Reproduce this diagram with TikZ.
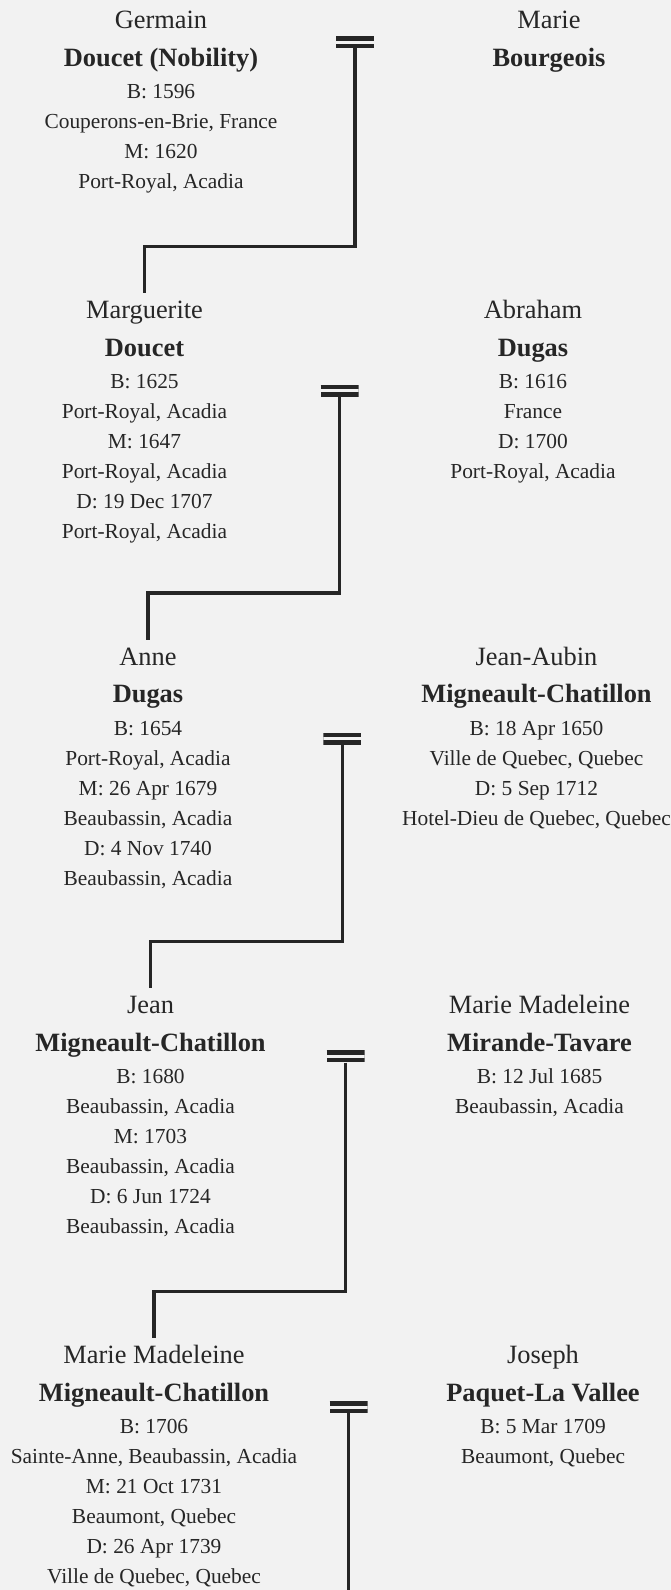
\documentclass[tikz,border=0pt]{standalone}
\usepackage{fontspec}
\setmainfont{Liberation Serif}
\usepackage{tikz}
\usetikzlibrary{positioning, calc}

\definecolor{ink}{HTML}{262626}
\definecolor{paper}{HTML}{F2F2F2}

\newcommand{\detailfont}{\fontsize{21.4}{30}\selectfont}
\newcommand{\namefont}{\fontsize{26.4}{30}\selectfont}
\newcommand{\pname}[2]{{\namefont\vphantom{l}#1}\\[7.4pt]{\namefont\bfseries #2}}

\begin{document}
\begin{tikzpicture}[x=1pt, y=-1pt,
    person/.style={align=center, anchor=north, inner sep=0pt, outer ysep=7pt, text=ink, font=\detailfont},
    union/.style={minimum width=38pt, minimum height=12pt, inner sep=0pt,
        path picture={\draw[ink, line width=4.5pt, double=paper, double distance=3pt] (path picture bounding box.west) -- (path picture bounding box.east);}},
    link/.style={draw=ink, line width=3.4pt}]

    \fill[paper] (0,0) rectangle (671,1590);
    \useasboundingbox (0,0) rectangle (671,1590);

    % Nodes
    \node [person] (germain) at (161,3.5) {\pname{Germain}{Doucet (Nobility)}\\[2.6pt]B: 1596\\Couperons-en-Brie, France\\M: 1620\\Port-Royal, Acadia};
    \node [person] (mbourgeois) at (549,3.5) {\pname{Marie}{Bourgeois}};

    \node [person] (marguerite) at (144.5,293.3) {\pname{Marguerite}{Doucet}\\[2.6pt]B: 1625\\Port-Royal, Acadia\\M: 1647\\Port-Royal, Acadia\\D: 19 Dec 1707\\Port-Royal, Acadia};
    \node [person] (abraham) at (533,293.3) {\pname{Abraham}{Dugas}\\[2.6pt]B: 1616\\France\\D: 1700\\Port-Royal, Acadia};

    \node [person] (anne) at (148,640) {\pname{Anne}{Dugas}\\[2.6pt]B: 1654\\Port-Royal, Acadia\\M: 26 Apr 1679\\Beaubassin, Acadia\\D: 4 Nov 1740\\Beaubassin, Acadia};
    \node [person] (jeanaubin) at (536.5,640) {\pname{Jean-Aubin}{Migneault-Chatillon}\\[2.6pt]B: 18 Apr 1650\\Ville de Quebec, Quebec\\D: 5 Sep 1712\\Hotel-Dieu de Quebec, Quebec};

    \node [person] (jean) at (150.5,988.3) {\pname{Jean}{Migneault-Chatillon}\\[2.6pt]B: 1680\\Beaubassin, Acadia\\M: 1703\\Beaubassin, Acadia\\D: 6 Jun 1724\\Beaubassin, Acadia};
    \node [person] (mmirande) at (539.5,988.3) {\pname{Marie Madeleine}{Mirande-Tavare}\\[2.6pt]B: 12 Jul 1685\\Beaubassin, Acadia};

    \node [person] (mmigneault) at (154,1338.3) {\pname{Marie Madeleine}{Migneault-Chatillon}\\[2.6pt]B: 1706\\Sainte-Anne, Beaubassin, Acadia\\M: 21 Oct 1731\\Beaumont, Quebec\\D: 26 Apr 1739\\Ville de Quebec, Quebec};
    \node [person] (joseph) at (543,1338.3) {\pname{Joseph}{Paquet-La Vallee}\\[2.6pt]B: 5 Mar 1709\\Beaumont, Quebec};

    % Marriages
    \node [union] (wed1) at (355,42.2) {};
    \node [union] (wed2) at (339.5,390.5) {};
    \node [union] (wed3) at (342.3,738.9) {};
    \node [union] (wed4) at (345.5,1056.4) {};
    \node [union] (wed5) at (348.7,1407.2) {};
    \coordinate (bottom) at (348.7,1590);

    % Descent lines
    \draw [link] (wed1.south) |- ($(marguerite.north)+(0,-47)$) -- (marguerite.north);
    \draw [link] (wed2.south) |- ($(anne.north)+(0,-47)$) -- (anne.north);
    \draw [link] (wed3.south) |- ($(jean.north)+(0,-47)$) -- (jean.north);
    \draw [link] (wed4.south) |- ($(mmigneault.north)+(0,-47)$) -- (mmigneault.north);
    \draw [link] (wed5.south) -- (wed5.south |- bottom);

\end{tikzpicture}
\end{document}
